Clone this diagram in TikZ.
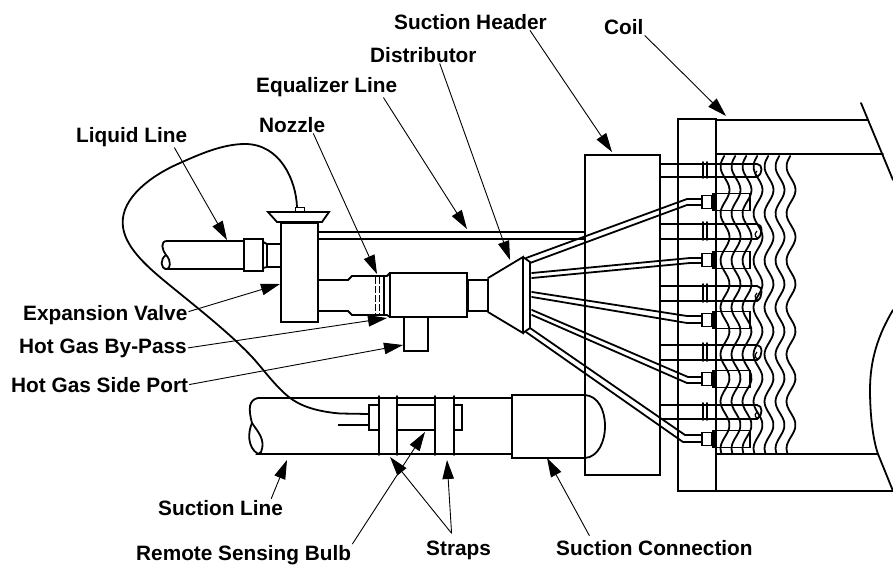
\documentclass[tikz,border=0pt]{standalone}
\usepackage{fontspec}
\setmainfont{Liberation Sans}
\usetikzlibrary{arrows.meta}
\tikzset{
  x=1pt,y=-1pt,
  part/.style={line width=1.8pt,line join=miter,line cap=round},
  thin part/.style={line width=1.2pt},
  lead/.style={line width=0.9pt,-{Triangle[length=19pt,width=11.5pt]}},
  lbl/.style={font=\bfseries\fontsize{20.8}{24}\selectfont,inner sep=1pt,text=black},
}
\newcommand{\nozzleAt}[1]{%
  \draw[part] (702,#1-6.5) rectangle (712,#1+6.5);
  \fill (712,#1-9) rectangle (716,#1+9);
  \draw[part] (716,#1-8.5) -- (750,#1-8.5) -- (750,#1+8.5) -- (716,#1+8.5);
}
\newcommand{\stubAt}[2]{%
  \draw[part] (660,#1) -- (757,#1) .. controls (763,#1) and (763,#2-3) .. (757,#2) -- (660,#2);
  \draw[thin part] (757,#1+7) .. controls (753,#1+10) and (756,#2+1) .. (760,#2-2);
  \draw[part] (703,#1-2) -- (703,#2+1) (707,#1-2) -- (707,#2+1);
}
\newcommand{\finAt}[1]{%
  \draw[part] plot[domain=156:453,samples=70,smooth] ({#1+4.5*cos((\x-190)/47*360)},\x);
}
\begin{document}
\begin{tikzpicture}
\useasboundingbox (0,0) rectangle (893,565);
% coil casing
\draw[part] (678,491) -- (678,119) -- (716,119) -- (716,491) -- cycle;
\draw[part] (716,120) -- (868,120) (716,154) -- (883,154);
\draw[part] (716,454) -- (878,454) (716,491) -- (893,491);
\draw[part] (861,103) -- (893,180);
\draw[part] (893,310) .. controls (878,335) and (870,360) .. (870,390) .. controls (870,415) and (873,440) .. (878,454) -- (893,491);
% fins
\foreach \c in {725,736,747,758,769,780,791} {\finAt{\c}}
% suction header
\draw[part] (585,395) -- (585,155) -- (660,155) -- (660,475) -- (585,475) -- (585,458);
% stubs
\stubAt{164}{177}
\stubAt{224}{239}
\stubAt{286}{301}
\stubAt{345}{360}
\stubAt{405}{419}
% nozzles
\nozzleAt{202}
\nozzleAt{260}
\nozzleAt{320}
\nozzleAt{379}
\nozzleAt{439}
% distributor tubes
\draw[part] (526,258) -- (687,199) -- (702,199) (530,263) -- (687,205) -- (702,205);
\draw[part] (532,273) -- (690,258) -- (702,258) (532,278) -- (690,263) -- (702,263);
\draw[part] (532,292) -- (687,316) -- (702,316) (532,297) -- (687,323) -- (702,323);
\draw[part] (532,310) -- (688,377) -- (702,377) (532,315) -- (687,383) -- (702,383);
\draw[part] (530,328) -- (685,435) -- (702,435) (526,332) -- (683,442) -- (702,442);
% distributor
\draw[part] (468,280) rectangle (488,311);
\draw[part] (488,278) -- (523,257) -- (523,333) -- (488,312);
\draw[part] (523,257) -- (530,262) -- (530,328) -- (523,333);
% body and nozzle
\draw[part] (390,273) rectangle (467,317);
\draw[part] (318,280) -- (348,280) -- (352,276) -- (387,276) -- (390,273);
\draw[part] (318,311) -- (348,311) -- (352,315) -- (387,315) -- (390,317);
\draw[part] (384,276) -- (384,315);
\draw[line width=1pt,dash pattern=on 7pt off 2pt] (375,277) -- (375,314) (379,277) -- (379,314);
% side port
\draw[part] (404,317) -- (404,351) -- (428,351) -- (428,317);
% valve
\draw[part] (281,223) rectangle (318,322);
\draw[part] (268,212) -- (329,212) -- (322,222) -- (277,222) -- cycle;
\draw[line width=1pt] (295,207) rectangle (304,212);
% equalizer
\draw[part] (318,232) -- (585,232) (318,239) -- (585,239);
% liquid line
\draw[part] (244,241) -- (167,241) .. controls (160,241) and (162,250) .. (166,255) .. controls (172,261) and (170,269) .. (167,269) -- (244,269);
\draw[part] (166,255) .. controls (160,259) and (160,269) .. (167,269);
\draw[part] (244,239) rectangle (263,271);
\draw[part] (263,242) -- (267,244) -- (281,244) (263,268) -- (267,267) -- (281,267) (267,244) -- (267,267);
% suction line
\draw[part] (512,398) -- (258,398) .. controls (249,400) and (248,408) .. (252,423) .. controls (258,432) and (266,440) .. (261,452) -- (258,454) -- (512,454);
\draw[part] (252,423) .. controls (248,432) and (247,447) .. (258,454);
\draw[part] (512,395) rectangle (585,458);
\draw[part] (585,395) .. controls (598,396) and (605,410) .. (605,426) .. controls (605,442) and (598,457) .. (585,458);
% straps and bulb
\draw[part] (379,396) -- (379,455) (397,396) -- (397,455) (435,396) -- (435,455) (454,396) -- (454,455);
\draw[part] (397,405) -- (435,405) (397,430) -- (435,430);
\draw[part] (379,405) -- (369,405) -- (369,430) -- (379,430);
\draw[part] (454,405) -- (462,405) -- (462,430) -- (454,430);
\draw[thin part] (338,425) -- (369,425);
% capillary
\draw[part] (369,414) -- (340,413.5) .. controls (322,412) and (305,408) .. (293,400) .. controls (278,390) and (264,370) .. (253,358) .. controls (230,333) and (190,302) .. (167,283) .. controls (145,265) and (123,245) .. (122.7,223) .. controls (122,198) and (150,176) .. (180,163) .. controls (198,155) and (222,144) .. (245,144) .. controls (280,144) and (296,180) .. (297,207);
% labels
\node[lbl,anchor=base west] (lCoil) at (603,34) {Coil};
\node[lbl,anchor=base west] (lHeader) at (393,29) {Suction Header};
\node[lbl,anchor=base west] (lDist) at (369,62) {Distributor};
\node[lbl,anchor=base west] (lEq) at (255,92) {Equalizer Line};
\node[lbl,anchor=base west] (lNoz) at (258,132) {Nozzle};
\node[lbl,anchor=base west] (lLiq) at (75,142) {Liquid Line};
\node[lbl,anchor=base west] (lExp) at (22,320) {Expansion Valve};
\node[lbl,anchor=base west] (lByp) at (18,353) {Hot Gas By-Pass};
\node[lbl,anchor=base west] (lSide) at (10,392) {Hot Gas Side Port};
\node[lbl,anchor=base west] (lSuc) at (157,515) {Suction Line};
\node[lbl,anchor=base west] (lBulb) at (135,560.3) {Remote Sensing Bulb};
\node[lbl,anchor=base west] (lStr) at (425,555) {Straps};
\node[lbl,anchor=base west] (lCon) at (555,555) {Suction Connection};
% leader tips
\coordinate (tCoil) at (726,116);
\coordinate (tHeader) at (612,152);
\coordinate (tDist) at (510,260);
\coordinate (tEq) at (467,229);
\coordinate (tNoz) at (377,274);
\coordinate (tLiq) at (227,240);
\coordinate (tExp) at (280,284);
\coordinate (tByp) at (387,318);
\coordinate (tSide) at (403,345);
\coordinate (tSuc) at (287,460);
\coordinate (tBulb) at (425,432);
\coordinate (tStrA) at (390,457);
\coordinate (tStrB) at (447,460);
\coordinate (tCon) at (547,458);
% leaders
\draw[lead] (lCoil.south east) -- (tCoil);
\draw[lead] ([xshift=-18pt]lHeader.south east) -- (tHeader);
\draw[lead] ([xshift=-38pt]lDist.south east) -- (tDist);
\draw[lead] ([xshift=-15pt]lEq.south east) -- (tEq);
\draw[lead] ([xshift=-13pt]lNoz.south east) -- (tNoz);
\draw[lead] ([xshift=-14pt]lLiq.south east) -- (tLiq);
\draw[lead] ([yshift=3pt]lExp.east) -- (tExp);
\draw[lead] (lByp.east) -- (tByp);
\draw[lead] (lSide.east) -- (tSide);
\draw[lead] ([xshift=-13pt]lSuc.north east) -- (tSuc);
\draw[lead] (lBulb.north east) -- (tBulb);
\draw[lead] ([xshift=-7pt,yshift=6pt]lStr.north) -- (tStrA);
\draw[lead] ([xshift=-7pt,yshift=6pt]lStr.north) -- (tStrB);
\draw[lead] ([xshift=-65pt,yshift=3pt]lCon.north) -- (tCon);
\end{tikzpicture}
\end{document}
